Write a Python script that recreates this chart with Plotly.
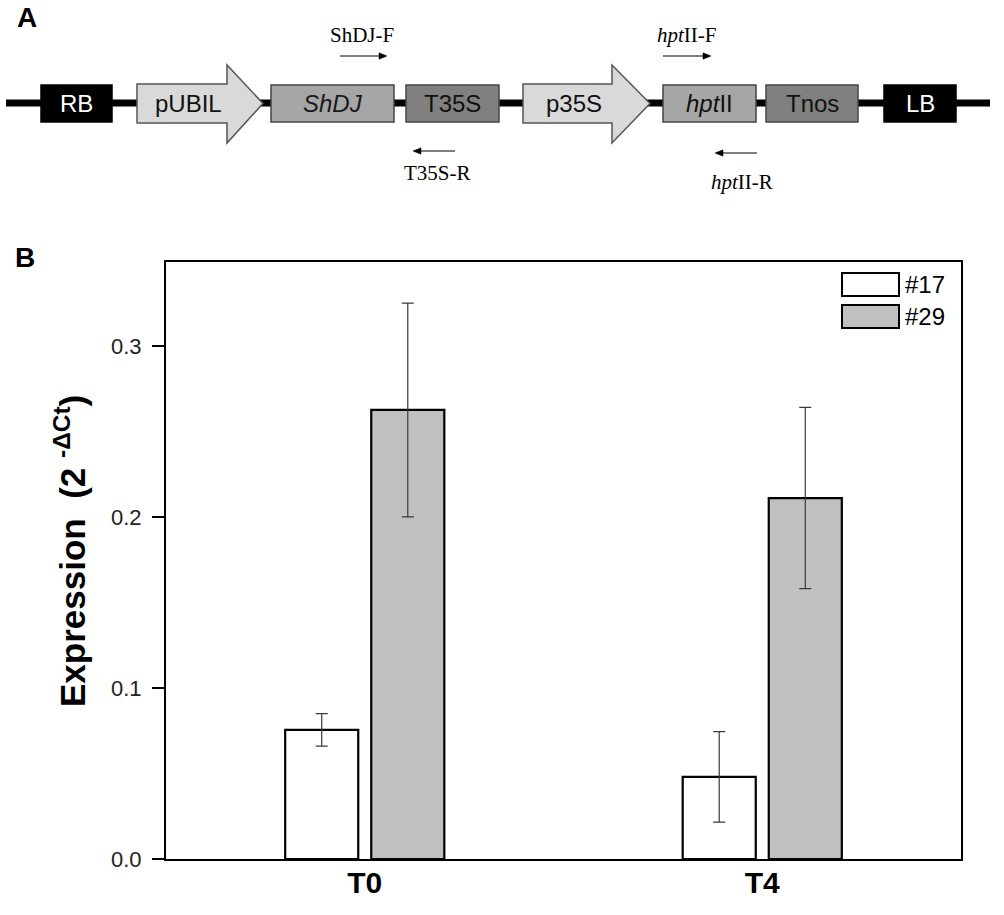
import plotly.graph_objects as go

# ---------------- data ----------------
categories = ["T0", "T4"]
series_names = ["#17", "#29"]
values_17 = [0.0755, 0.048]
errors_17 = [0.0095, 0.0265]
values_29 = [0.2625, 0.211]
errors_29 = [0.0625, 0.053]
y_tick_vals = [0.0, 0.1, 0.2, 0.3]
y_tick_text = ["0.0", "0.1", "0.2", "0.3"]

# construct diagram elements (panel A)
box_labels = ["RB", "<i>ShDJ</i>", "T35S", "<i>hpt</i>II", "Tnos", "LB"]
promoter_labels = ["pUBIL", "p35S"]
primer_labels = ["ShDJ-F", "T35S-R", "<i>hpt</i>II-F", "<i>hpt</i>II-R"]

# ---------------- geometry ----------------
W, H = 1004, 915
ML, MR, MT, MB = 166, 43, 262, 56
PW, PH = W - ML - MR, H - MT - MB


def X(px):
    return (px - ML) / PW


def Y(py):
    return (H - MB - py) / PH


SANS = "Arial, Liberation Sans, sans-serif"
SERIF = "Times New Roman, Liberation Serif, serif"

fig = go.Figure()
bar_line = dict(color="black", width=2.2)
err_style = dict(type="data", visible=True, color="#3a3a3a", thickness=1.2, width=6)

fig.add_trace(go.Bar(x=categories, y=values_17, name=series_names[0],
                     marker=dict(color="white", line=bar_line),
                     error_y=dict(array=errors_17, **err_style)))
fig.add_trace(go.Bar(x=categories, y=values_29, name=series_names[1],
                     marker=dict(color="#c0c0c0", line=bar_line),
                     error_y=dict(array=errors_29, **err_style)))

shapes = []
annotations = []

# ---------- custom legend ----------
leg_fills = ["white", "#c0c0c0"]
leg_tops = [273, 305]
for name, fill, top in zip(series_names, leg_fills, leg_tops):
    shapes.append(dict(type="rect", xref="paper", yref="paper",
                       x0=X(842), x1=X(899), y0=Y(top), y1=Y(top + 23),
                       fillcolor=fill, line=dict(color="black", width=2)))
    annotations.append(dict(xref="paper", yref="paper", x=X(903), y=Y(top + 11.5),
                            text=name, showarrow=False, xanchor="left", yanchor="middle",
                            font=dict(family=SANS, size=24, color="black")))

# ---------- y-axis title ----------
annotations.append(dict(xref="paper", yref="paper", x=X(70), y=Y(551),
                        text="<b>Expression  (2 <sup>-ΔCt</sup>)</b>", textangle=-90,
                        showarrow=False, xanchor="center", yanchor="middle",
                        font=dict(family=SANS, size=35, color="black")))

# ---------- panel letters ----------
for letter, (lx, ly) in zip(["A", "B"], [(27, 17), (25, 257)]):
    annotations.append(dict(xref="paper", yref="paper", x=X(lx), y=Y(ly),
                            text="<b>%s</b>" % letter, showarrow=False,
                            xanchor="center", yanchor="middle",
                            font=dict(family=SANS, size=28, color="black")))

# ---------- panel A: construct diagram ----------
line_y = 103
shapes.append(dict(type="line", xref="paper", yref="paper",
                   x0=X(6), x1=X(990), y0=Y(line_y), y1=Y(line_y),
                   line=dict(color="black", width=7)))

box_geom = [(41, 112), (271, 394), (406, 499), (663, 756), (766, 858), (884, 956)]
box_fill = ["black", "#a6a6a6", "#808080", "#a6a6a6", "#808080", "black"]
box_text = ["white", "#1a1a1a", "#111111", "#111111", "#111111", "white"]
for (x0, x1), fill, tc, lab in zip(box_geom, box_fill, box_text, box_labels):
    shapes.append(dict(type="rect", xref="paper", yref="paper",
                       x0=X(x0), x1=X(x1), y0=Y(85), y1=Y(122),
                       fillcolor=fill, line=dict(color="#444" if fill != "black" else "black", width=1.5)))
    annotations.append(dict(xref="paper", yref="paper", x=X((x0 + x1) / 2), y=Y(104),
                            text=lab, showarrow=False, xanchor="center", yanchor="middle",
                            font=dict(family=SANS, size=24, color=tc)))

prom_geom = [(137, 227, 263), (523, 612, 650)]
for (bx0, bx1, tip), lab in zip(prom_geom, promoter_labels):
    pts = [(bx0, 84), (bx1, 84), (bx1, 65), (tip, 103.5), (bx1, 143), (bx1, 123), (bx0, 123)]
    path = "M " + " L ".join("%f,%f" % (X(a), Y(b)) for a, b in pts) + " Z"
    shapes.append(dict(type="path", xref="paper", yref="paper", path=path,
                       fillcolor="#d9d9d9", line=dict(color="#555", width=1.5)))
    annotations.append(dict(xref="paper", yref="paper", x=X((bx0 + bx1) / 2 + 6), y=Y(104),
                            text=lab, showarrow=False, xanchor="center", yanchor="middle",
                            font=dict(family=SANS, size=24, color="#111")))

# primers: (label x, label y, arrow tail x, arrow head x, arrow y)
primer_geom = [(362, 35, 340, 387, 56), (437, 173, 455, 413, 151),
               (687, 35, 663, 711, 56), (742, 182, 757, 715, 153)]
for (tx, ty, ax0, ax1, ay), lab in zip(primer_geom, primer_labels):
    annotations.append(dict(xref="paper", yref="paper", x=X(tx), y=Y(ty),
                            text=lab, showarrow=False, xanchor="center", yanchor="middle",
                            font=dict(family=SERIF, size=21, color="black")))
    d = 1 if ax1 > ax0 else -1
    shapes.append(dict(type="line", xref="paper", yref="paper",
                       x0=X(ax0), x1=X(ax1 - d * 6), y0=Y(ay), y1=Y(ay),
                       line=dict(color="black", width=1.2)))
    tri = [(ax1, ay), (ax1 - d * 8, ay - 3.2), (ax1 - d * 8, ay + 3.2)]
    tpath = "M " + " L ".join("%f,%f" % (X(a), Y(b)) for a, b in tri) + " Z"
    shapes.append(dict(type="path", xref="paper", yref="paper", path=tpath,
                       fillcolor="black", line=dict(color="black", width=0.5)))

fig.update_layout(
    width=W, height=H,
    margin=dict(l=ML, r=MR, t=MT, b=MB),
    paper_bgcolor="white", plot_bgcolor="white",
    barmode="group", bargap=0.567, bargroupgap=0.151,
    showlegend=False,
    shapes=shapes, annotations=annotations,
    font=dict(family=SANS, color="black"),
)
fig.update_xaxes(
    range=[-0.5, 1.5], tickvals=categories,
    ticktext=["<b>%s</b>" % c for c in categories],
    ticks="", showline=True, linecolor="black", linewidth=2, mirror=True,
    showgrid=False, zeroline=False, ticklabelstandoff=-4,
    tickfont=dict(family=SANS, size=30, color="black"),
)
fig.update_yaxes(
    range=[0, 0.349], tickvals=y_tick_vals, ticktext=y_tick_text,
    ticks="outside", ticklen=12, tickwidth=1.5, tickcolor="black",
    showline=True, linecolor="black", linewidth=2, mirror=True,
    showgrid=False, zeroline=False, ticklabelstandoff=6,
    tickfont=dict(family=SANS, size=22, color="#222"),
)

fig.write_html("out.html", config={"displayModeBar": False},
               post_script="document.body.style.margin='0';")
